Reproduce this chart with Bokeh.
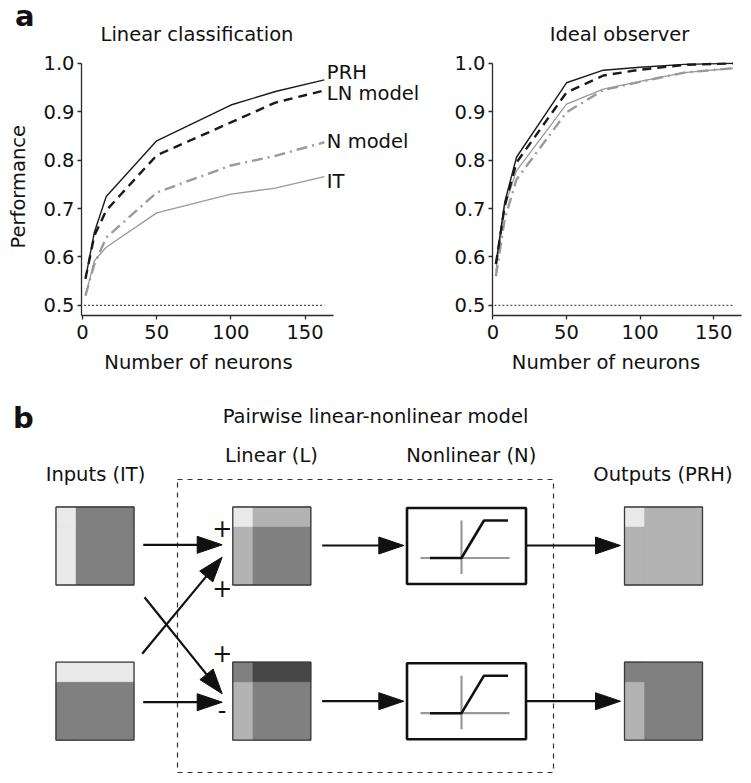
import math
from bokeh.plotting import figure
from bokeh.models import Range1d, FixedTicker, NumeralTickFormatter
from bokeh.layouts import column, row
from bokeh.core.properties import value
from bokeh.embed import file_html
from bokeh.resources import INLINE

FONT = "DejaVu Sans"
FS = 19.5
INK = "#111111"
BASE_SHIFT = 0.38     # glyph text sits this many em lower than its anchor

# ---------------- data (panel a) ----------------
neurons_lin = [2, 8, 16, 50, 100, 130, 163]
lin_prh = [0.555, 0.651, 0.725, 0.840, 0.914, 0.942, 0.966]
lin_ln = [0.555, 0.644, 0.696, 0.810, 0.878, 0.919, 0.944]
lin_n = [0.520, 0.585, 0.640, 0.733, 0.789, 0.809, 0.837]
lin_it = [0.520, 0.592, 0.620, 0.691, 0.730, 0.742, 0.766]

neurons_io = [2, 8, 16, 50, 75, 100, 130, 163]
io_prh = [0.585, 0.713, 0.806, 0.960, 0.986, 0.992, 0.998, 1.000]
io_ln = [0.585, 0.705, 0.795, 0.940, 0.975, 0.987, 0.997, 1.000]
io_it = [0.570, 0.705, 0.778, 0.916, 0.947, 0.963, 0.981, 0.990]
io_n = [0.560, 0.678, 0.760, 0.899, 0.945, 0.962, 0.981, 0.990]

chance_x = [1, 163]
chance_y = [0.5, 0.5]

x_ticks = [0, 50, 100, 150]
y_ticks = [0.5, 0.6, 0.7, 0.8, 0.9, 1.0]

series_names = ["PRH", "LN model", "N model", "IT"]

# ---------------- data (panel b: matrices as corner / top row / left column / body) -----
matrix_names = ["in_top", "in_bot", "lin_top", "lin_bot", "out_top", "out_bot"]
matrix_corner = ["#e9e9e9", "#e9e9e9", "#e9e9e9", "#808080", "#e9e9e9", "#808080"]
matrix_toprow = ["#808080", "#e9e9e9", "#b3b3b3", "#474747", "#b3b3b3", "#808080"]
matrix_leftcol = ["#e9e9e9", "#808080", "#b3b3b3", "#b3b3b3", "#b3b3b3", "#b3b3b3"]
matrix_body = ["#808080", "#808080", "#808080", "#808080", "#b3b3b3", "#808080"]

# ---------------- layout constants (page pixels) ----------------
PAGE_W, PAGE_H = 751, 783
STRIP_H = 53          # titles strip (page y 0..53)
PLOT_H = 295          # plots row (page y 53..348)
L_W = 40              # strip holding the y-axis title
A_W, A_L = 451 - L_W, 80 - L_W
B_W, B_L = PAGE_W - 451, 38
BORDER_B = 33
YR = (0.4789, 1.0205)
XA = (-0.672, 248.7)
XB = (-0.3, 175.7)


def blank(width, height, y_top):
    p = figure(width=width, height=height, x_range=Range1d(0, width),
               y_range=Range1d(y_top + height, y_top),
               min_border=0, min_border_left=0, min_border_right=0, min_border_top=0,
               min_border_bottom=0, x_axis_location=None, y_axis_location=None,
               output_backend="svg", toolbar_location=None)
    p.outline_line_color = None
    p.grid.visible = False
    p.background_fill_color = "white"
    p.border_fill_color = "white"
    return p


def make_panel(width, bl, xr, xbound_end):
    p = figure(width=width, height=PLOT_H, x_range=Range1d(*xr), y_range=Range1d(*YR),
               min_border_left=bl, min_border_right=0, min_border_top=0,
               min_border_bottom=BORDER_B, output_backend="svg", toolbar_location=None)
    p.outline_line_color = None
    p.grid.visible = False
    p.background_fill_color = "white"
    p.border_fill_color = "white"
    p.xaxis.ticker = FixedTicker(ticks=x_ticks)
    p.yaxis.ticker = FixedTicker(ticks=y_ticks)
    p.xaxis.formatter = NumeralTickFormatter(format="0")
    p.yaxis.formatter = NumeralTickFormatter(format="0.0")
    p.yaxis.bounds = (YR[0], 1.0)
    p.xaxis.bounds = (xr[0], xbound_end)
    for ax in p.axis:
        ax.axis_line_color = "#2a2a2a"
        ax.axis_line_width = 1.3
        ax.major_tick_line_color = "#2a2a2a"
        ax.major_tick_line_width = 1.3
        ax.major_tick_out = 4
        ax.major_tick_in = 0
        ax.minor_tick_line_color = None
        ax.major_label_text_font = FONT
        ax.major_label_text_font_size = f"{FS}px"
        ax.major_label_text_color = INK
    p.yaxis.major_label_standoff = 3
    p.xaxis.major_label_standoff = 5
    return p


def draw_series(p, xs, prh, ln, nm, it):
    p.line(chance_x, chance_y, line_color="#555555", line_width=1.3, line_dash="2 2")
    p.line(xs, it, line_color="#9a9a9a", line_width=1.3)
    p.line(xs, nm, line_color="#9a9a9a", line_width=2.4, line_dash="11 5 2 5")
    p.line(xs, ln, line_color="#1a1a1a", line_width=2.4, line_dash="9 6")
    p.line(xs, prh, line_color="#1a1a1a", line_width=1.4)


ppy = (PLOT_H - BORDER_B) / (YR[1] - YR[0])


def fy(py):
    """page y -> data y for the plot row"""
    return YR[1] - (py - STRIP_H) / ppy


def txt(p, xs, ys, texts, size=FS, align="center", bold=False, angle=0.0, page_y=True,
        conv=None):
    """ys are page-pixel baselines; corrected for the renderer's baseline offset"""
    shift = BASE_SHIFT * size if angle == 0.0 else 0.0
    yy = [y - shift for y in ys]
    if conv is not None:
        yy = [conv(y) for y in yy]
    p.text(x=xs, y=yy, text=texts, text_font=value(FONT), text_font_size=f"{size}px",
           text_font_style="bold" if bold else "normal", text_align=align,
           text_baseline="alphabetic", text_color=INK, angle=angle)


# ---------------- top strip: panel letter + titles ----------------
ps = blank(PAGE_W, STRIP_H, 0)
txt(ps, [14.5], [26.7], ["a"], size=29, align="left", bold=True)
txt(ps, [196.5, 619.0], [41.7, 41.7], ["Linear classification", "Ideal observer"])

# ---------------- y-axis title strip ----------------
pl = blank(L_W, PLOT_H, STRIP_H)
txt(pl, [18.0], [203.0], ["Performance"], angle=math.pi / 2)

# ---------------- panel a, left ----------------
pa = make_panel(A_W, A_L, XA, 169.0)
draw_series(pa, neurons_lin, lin_prh, lin_ln, lin_n, lin_it)
name_baselines = [79.3, 100.7, 148.3, 188.3]
txt(pa, [164.7] * 4, name_baselines, series_names, align="left", conv=fy)

# ---------------- panel a, right ----------------
pb = make_panel(B_W, B_L, XB, 168.9)
draw_series(pb, neurons_io, io_prh, io_ln, io_n, io_it)

# ---------------- panel b (diagram, page-pixel coordinates) ----------------
TOP_C = STRIP_H + PLOT_H
pc = blank(PAGE_W, PAGE_H - TOP_C, TOP_C)

# x-axis titles of panel a
txt(pc, [198.0, 605.5], [369.3, 369.3], ["Number of neurons", "Number of neurons"])

# dashed model box
pc.quad(left=[177], right=[553], top=[479], bottom=[772], fill_color=None,
        line_color="#333333", line_width=1.2, line_dash="5 5")

# matrices (layered: body, top row, left column, corner)
S = 78.0
Q = S / 4
mat_pos = {"in_top": (55.5, 506.5), "in_bot": (55.5, 661.7),
           "lin_top": (232.3, 506.5), "lin_bot": (232.3, 661.7),
           "out_top": (624.0, 506.5), "out_bot": (624.0, 661.7)}
layers = [[], [], [], []]
for i, nm in enumerate(matrix_names):
    x0, y0 = mat_pos[nm]
    layers[0].append((x0, x0 + S, y0, y0 + S, matrix_body[i]))
    layers[1].append((x0, x0 + S, y0, y0 + Q, matrix_toprow[i]))
    layers[2].append((x0, x0 + Q, y0 + Q, y0 + S, matrix_leftcol[i]))
    layers[3].append((x0, x0 + Q, y0, y0 + Q, matrix_corner[i]))
for lay in layers:
    pc.quad(left=[c[0] for c in lay], right=[c[1] for c in lay], top=[c[2] for c in lay],
            bottom=[c[3] for c in lay], fill_color=[c[4] for c in lay],
            line_color=[c[4] for c in lay], line_width=0.6)
pc.quad(left=[mat_pos[n][0] for n in matrix_names],
        right=[mat_pos[n][0] + S for n in matrix_names],
        top=[mat_pos[n][1] for n in matrix_names],
        bottom=[mat_pos[n][1] + S for n in matrix_names],
        fill_color=None, line_color="#3a3a3a", line_width=1.3)

# nonlinearity boxes
nl_boxes = [(406.5, 507.5), (406.5, 662.7)]
NW, NH = 119.0, 76.0
for bx, by in nl_boxes:
    pc.quad(left=[bx], right=[bx + NW], top=[by], bottom=[by + NH], fill_color="white",
            line_color=INK, line_width=2.6)
    pc.line([bx + 13.5, bx + 102.5], [by + 50, by + 50], line_color="#999999", line_width=2.2)
    pc.line([bx + 54.5, bx + 54.5], [by + 12.5, by + 66], line_color="#999999", line_width=2.2)
    pc.line([bx + 23, bx + 54.5, bx + 77, bx + 101], [by + 50, by + 50, by + 12.5, by + 12.5],
            line_color=INK, line_width=2.6)

# arrows
arrows = [
    (142.7, 544.3, 221.7, 544.3),
    (142.7, 701.7, 221.7, 701.7),
    (141.7, 653.3, 221.7, 556.7),
    (144.0, 596.7, 221.7, 693.3),
    (321.7, 545.0, 403.3, 545.0),
    (321.7, 700.7, 403.3, 700.7),
    (525.0, 545.0, 620.0, 545.0),
    (525.0, 700.7, 620.0, 700.7),
]
HL, HW = 25.0, 17.0
sx0, sy0, sx1, sy1, hx, hy = [], [], [], [], [], []
for x0, y0, x1, y1 in arrows:
    dx, dy = x1 - x0, y1 - y0
    d = math.hypot(dx, dy)
    ux, uy = dx / d, dy / d
    nx, ny = -uy, ux
    bxp, byp = x1 - HL * ux, y1 - HL * uy
    sx0.append(x0); sy0.append(y0); sx1.append(bxp + 2 * ux); sy1.append(byp + 2 * uy)
    hx.append([x1, bxp + nx * HW / 2, bxp - nx * HW / 2])
    hy.append([y1, byp + ny * HW / 2, byp - ny * HW / 2])
pc.segment(sx0, sy0, sx1, sy1, line_color=INK, line_width=2.2)
pc.patches(hx, hy, fill_color=INK, line_color=INK, line_width=1)

# signs
txt(pc, [221.7, 221.7, 221.7], [536.3, 596.3, 662.0], ["+", "+", "+"], size=24)
txt(pc, [221.7], [718.2], ["-"], size=24)

# texts
txt(pc, [12.5], [429.0], ["b"], size=29, align="left", bold=True)
txt(pc, [375, 271, 470.8, 95, 662.5], [423.3, 462.7, 462.7, 481.7, 481.7],
    ["Pairwise linear-nonlinear model", "Linear (L)", "Nonlinear (N)",
     "Inputs (IT)", "Outputs (PRH)"])

layout = column(ps, row(pl, pa, pb), pc)
open("out.html", "w").write(file_html(layout, INLINE))
